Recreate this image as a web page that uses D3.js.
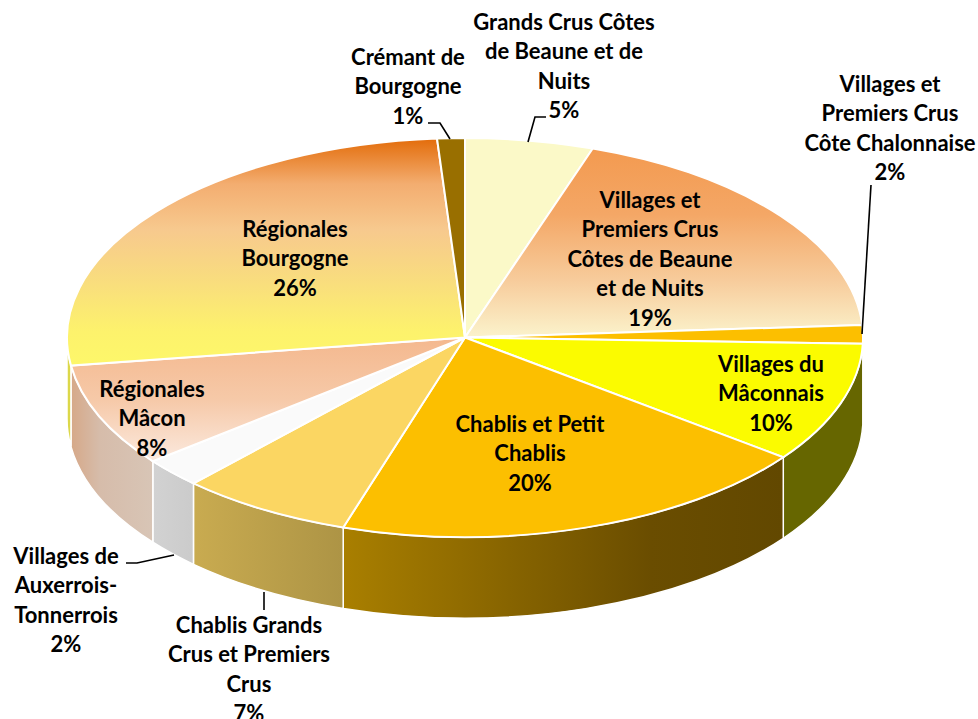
<!DOCTYPE html>
<html>
<head>
<meta charset="utf-8">
<script src="https://cdn.jsdelivr.net/npm/d3@7"></script>
<style>
  html, body { margin: 0; background: #fff; }
  svg { display: block; }
  text { font-family: Lato, sans-serif; font-weight: 700; font-size: 22px; fill: #000; }
</style>
</head>
<body>
<div id="chart"></div>
<script>
// slices clockwise from 12 o'clock
const categories = [
  ["Grands Crus Côtes", "de Beaune et de", "Nuits"],
  ["Villages et", "Premiers Crus", "Côtes de Beaune", "et de Nuits"],
  ["Villages et", "Premiers Crus", "Côte Chalonnaise"],
  ["Villages du", "Mâconnais"],
  ["Chablis et Petit", "Chablis"],
  ["Chablis Grands", "Crus et Premiers", "Crus"],
  ["Villages de", "Auxerrois-", "Tonnerrois"],
  ["Régionales", "Mâcon"],
  ["Régionales", "Bourgogne"],
  ["Crémant de", "Bourgogne"]
]
const percentLabels = ["5%", "19%", "2%", "10%", "20%", "7%", "2%", "8%", "26%", "1%"]
// values as measured from the slice boundaries, the labels are rounded
const values = [5.2, 18.8, 1.5, 9.75, 19.7, 7, 2.4, 8.4, 26.13, 1.12]

// [offset, colour] stops, top to bottom
const topColors = [
  [[0, "#fbf9c8"], [1, "#fbf9c8"]],
  [[0, "#f39a50"], [0.35, "#f4a766"], [0.7, "#f7cc9c"], [1, "#fbf3cc"]],
  [[0, "#fcbf00"], [1, "#fcbf00"]],
  [[0, "#fbfb00"], [1, "#fbfb00"]],
  [[0, "#fcbf00"], [1, "#fcbf00"]],
  [[0, "#fbd662"], [1, "#fbd662"]],
  [[0, "#fafafa"], [1, "#fafafa"]],
  [[0, "#f4b88e"], [0.5, "#f6c9a8"], [1, "#fbe9de"]],
  [[0, "#e36c0a"], [0.2, "#f3ad70"], [0.4, "#f7c98e"], [0.65, "#f9df7c"], [0.85, "#fdf26c"], [1, "#fdf76a"]],
  [[0, "#996f00"], [1, "#996f00"]]
]
// [offset, colour] stops, left to right
const wallColors = [
  [[0, "#fbf9c8"], [1, "#fbf9c8"]],
  [[0, "#f7cc9c"], [1, "#f7cc9c"]],
  [[0, "#997300"], [1, "#997300"]],
  [[0, "#666600"], [1, "#666600"]],
  [[0, "#a97f00"], [0.7, "#6a4d00"], [1, "#624800"]],
  [[0, "#c9ab50"], [1, "#ad9445"]],
  [[0, "#d2d2d2"], [1, "#cbcbcb"]],
  [[0, "#d6a888"], [0.35, "#d6bcaa"], [1, "#d8c5b6"]],
  [[0, "#dcd84a"], [1, "#dcd84a"]],
  [[0, "#7a5900"], [1, "#7a5900"]]
]

// label centre and the vertical centre of its first line
const labelPos = [
  [564, 22], [650, 200], [890, 84], [771, 364], [530, 424],
  [249, 625], [66, 556], [152, 389], [295, 229], [408, 57]
]
const lineStep = 29.6

const leaders = [
  [[428, 123], [440, 123], [450, 139]],
  [[546, 117], [535, 117], [528, 142]],
  [[871, 185], [862, 334]],
  [[126, 563], [137, 563], [174, 555]],
  [[264, 592], [264, 610]]
]

const width = 978
const height = 719
const cx = 465
const cy = 337.5
const rx = 398
const ry = 199.5
const depth = 81

const svg = d3.select("#chart").append("svg")
  .attr("width", width)
  .attr("height", height)
  .attr("viewBox", [0, 0, width, height])

const defs = svg.append("defs")

function addGradient(id, stops, vertical) {
  const g = defs.append("linearGradient")
    .attr("id", id)
    .attr("x1", 0).attr("y1", 0)
    .attr("x2", vertical ? 0 : 1).attr("y2", vertical ? 1 : 0)
  g.selectAll("stop").data(stops).join("stop")
    .attr("offset", d => d[0])
    .attr("stop-color", d => d[1])
}
topColors.forEach((s, i) => addGradient("top" + i, s, true))
wallColors.forEach((s, i) => addGradient("wall" + i, s, false))

const slices = d3.pie().sort(null).value(d => d)(values)

// point on the tilted rim
const px = a => cx + rx * Math.sin(a)
const py = a => cy - ry * Math.cos(a)

function wallPath(d) {
  const a0 = Math.max(d.startAngle, Math.PI / 2)
  const a1 = Math.min(d.endAngle, Math.PI * 1.5)
  if (a1 <= a0) return null
  return `M${px(a0)},${py(a0)}`
    + `A${rx},${ry} 0 0 1 ${px(a1)},${py(a1)}`
    + `L${px(a1)},${py(a1) + depth}`
    + `A${rx},${ry} 0 0 0 ${px(a0)},${py(a0) + depth}Z`
}

// front walls
svg.append("g").selectAll("path")
  .data(slices.filter(d => wallPath(d)))
  .join("path")
  .attr("d", wallPath)
  .attr("fill", d => `url(#wall${d.index})`)
  .attr("stroke", "#fff")
  .attr("stroke-width", 1.5)

// top face: a flat pie squashed into the ellipse
const arc = d3.arc().innerRadius(0).outerRadius(rx)

svg.append("g")
  .attr("transform", `translate(${cx},${cy}) scale(1,${ry / rx})`)
  .selectAll("path")
  .data(slices)
  .join("path")
  .attr("d", arc)
  .attr("fill", d => `url(#top${d.index})`)
  .attr("stroke", "#fff")
  .attr("stroke-width", 2)
  .attr("vector-effect", "non-scaling-stroke")

// leader lines
const line = d3.line()
svg.append("g").selectAll("path")
  .data(leaders)
  .join("path")
  .attr("d", line)
  .attr("fill", "none")
  .attr("stroke", "#000")
  .attr("stroke-width", 1.6)

// labels
svg.append("g").selectAll("text")
  .data(categories.map((c, i) => ({ lines: c.concat(percentLabels[i]), pos: labelPos[i] })))
  .join("text")
  .attr("text-anchor", "middle")
  .each(function(d) {
    d3.select(this).selectAll("tspan")
      .data(d.lines)
      .join("tspan")
      .attr("x", d.pos[0])
      .attr("y", (l, i) => d.pos[1] + 7.5 + i * lineStep)
      .text(l => l)
  })
</script>
</body>
</html>
